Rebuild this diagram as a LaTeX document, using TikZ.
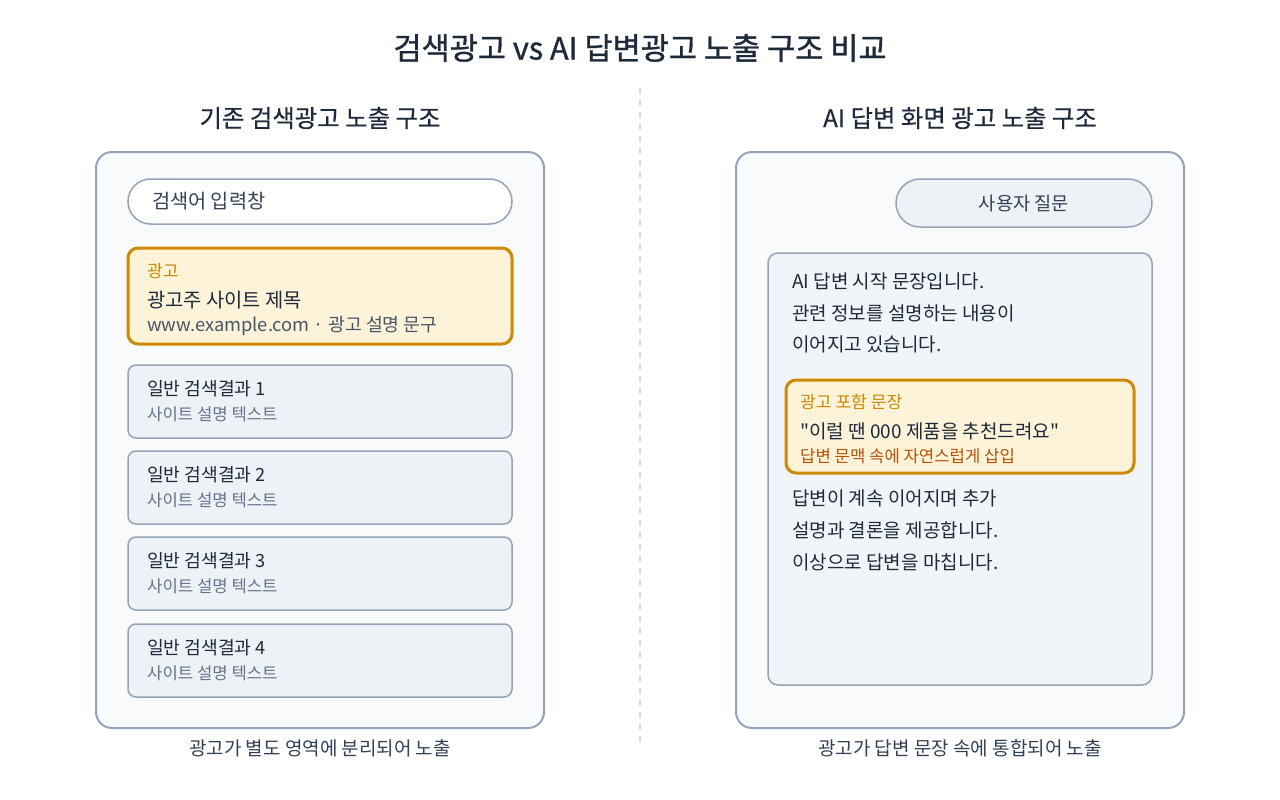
\documentclass[tikz,border=0pt]{standalone}
\usepackage{fontspec}
\setmainfont{Noto Sans CJK KR}
\newfontfamily\titlefont{Noto Sans CJK KR}[FakeBold=1.1]
\newfontfamily\subfont{Noto Sans CJK KR}[FakeBold=0.4]
\newfontfamily\quotefont{Noto Sans CJK KR}[Ligatures=TeXOff]
\definecolor{panelbg}{HTML}{F8FAFC}
\definecolor{cardbg}{HTML}{EEF2F7}
\definecolor{ansbg}{HTML}{F1F5F9}
\definecolor{bordc}{HTML}{94A3B8}
\definecolor{adbg}{HTML}{FDF3D8}
\definecolor{adbord}{HTML}{CE8A05}
\definecolor{adlab}{HTML}{CA8A04}
\definecolor{adsub}{HTML}{B45309}
\definecolor{ink}{HTML}{1E293B}
\definecolor{ink2}{HTML}{334155}
\definecolor{ink3}{HTML}{475569}
\definecolor{ink4}{HTML}{64748B}
\definecolor{divc}{HTML}{D3DAE5}
\tikzset{
  panel/.style={draw=bordc, fill=panelbg, line width=2pt, rounded corners=16pt, minimum width=448pt, minimum height=576pt, inner sep=0pt},
  card/.style={draw=bordc, fill=cardbg, line width=1.5pt, rounded corners=8pt, minimum width=384pt, minimum height=73pt, inner sep=0pt},
  adbox/.style={draw=adbord, fill=adbg, line width=3pt, rounded corners=10pt, inner sep=0pt},
  pill/.style={draw=bordc, line width=1.5pt, rounded corners=22.5pt, inner sep=0pt},
  anbox/.style={draw=bordc, fill=ansbg, line width=1.5pt, rounded corners=10pt, minimum width=384pt, minimum height=432pt, inner sep=0pt},
  txt/.style={inner sep=0pt, anchor=west},
  ctxt/.style={inner sep=0pt, anchor=center},
  ftitle/.style={font=\fontsize{30.6}{35}\selectfont\titlefont},
  fsub/.style={font=\fontsize{24.4}{28}\selectfont\subfont},
  fbody/.style={font=\fontsize{19}{22}\selectfont},
  fres/.style={font=\fontsize{18.2}{21}\selectfont},
  furl/.style={font=\fontsize{18.3}{21}\selectfont},
  fsmall/.style={font=\fontsize{16.7}{19}\selectfont},
  flab/.style={font=\fontsize{17.1}{20}\selectfont},
  divider/.style={draw=divc, line width=1.5pt, dash pattern=on 6pt off 6pt},
}
\begin{document}
\begin{tikzpicture}[x=1pt, y=-1pt]
\useasboundingbox (0,0) rectangle (1280,800);
\fill[white] (0,0) rectangle (1280,800);

% title
\node[ctxt, ftitle, text=ink] (title) at (640,48) {검색광고 vs AI 답변광고 노출 구조 비교};

% divider
\coordinate (dtop) at (640,88);
\coordinate (dbot) at (640,748);
\draw[divider] (dtop) -- (dbot);

% ===== Left =====
\node[ctxt, fsub, text=ink] (lsub) at (320,118) {기존 검색광고 노출 구조};
\node[panel] (lp) at (320,440) {};
\node[pill, fill=white, minimum width=384pt, minimum height=45pt] (search) at (320,201.5) {};
\node[txt, font=\fontsize{19.7}{22}\selectfont, text=ink2] (searcht) at (152,201) {검색어 입력창};

\node[adbox, minimum width=384pt, minimum height=96pt] (lad) at (320,296) {};
\node[txt, flab, text=adlab] (ladl) at (147,271.5) {광고};
\node[txt, font=\fontsize{19.8}{22}\selectfont, text=ink] (ladt) at (147,300.5) {광고주 사이트 제목};
\node[txt, furl, text=ink3] (ladu) at (147,326.5) {www.example.com · 광고 설명 문구};

\foreach \i/\t in {1/365,2/451,3/537,4/624}{
  \node[card] (r\i) at (320,\t+36.5) {};
  \node[txt, fres, text=ink] (r\i t) at (147,\t+24) {일반 검색결과 \i};
  \node[txt, fsmall, text=ink4] (r\i s) at (147,\t+49) {사이트 설명 텍스트};
}
\node[ctxt, fbody, text=ink2] (lcap) at (320,748) {광고가 별도 영역에 분리되어 노출};

% ===== Right =====
\node[ctxt, fsub, text=ink] (rsub) at (960,118) {AI 답변 화면 광고 노출 구조};
\node[panel] (rp) at (960,440) {};
\node[pill, fill=cardbg, rounded corners=24pt, minimum width=256pt, minimum height=48pt] (q) at (1024,203) {};
\node[ctxt, font=\fontsize{18.7}{22}\selectfont, text=ink2] (qt) at (1024,203.5) {사용자 질문};

\node[anbox] (ans) at (960,469) {};
\node[txt, fbody, text=ink] (a1) at (792,281) {AI 답변 시작 문장입니다.};
\node[txt, fbody, text=ink] (a2) at (792,313) {관련 정보를 설명하는 내용이};
\node[txt, fbody, text=ink] (a3) at (792,344.5) {이어지고 있습니다.};

\node[adbox, minimum width=348pt, minimum height=93pt] (rad) at (960,426.5) {};
\node[txt, flab, text=adlab] (radl) at (800,402.5) {광고 포함 문장};
\node[txt, font=\fontsize{19}{22}\selectfont\quotefont, text=ink] (radq) at (800,431.5) {"이럴 땐 000 제품을 추천드려요"};
\node[txt, fsmall, text=adsub] (rads) at (800,456) {답변 문맥 속에 자연스럽게 삽입};

\node[txt, fbody, text=ink] (b1) at (792,498) {답변이 계속 이어지며 추가};
\node[txt, fbody, text=ink] (b2) at (792,530.5) {설명과 결론을 제공합니다.};
\node[txt, fbody, text=ink] (b3) at (792,562) {이상으로 답변을 마칩니다.};

\node[ctxt, fbody, text=ink2] (rcap) at (960,748) {광고가 답변 문장 속에 통합되어 노출};
\end{tikzpicture}
\end{document}
